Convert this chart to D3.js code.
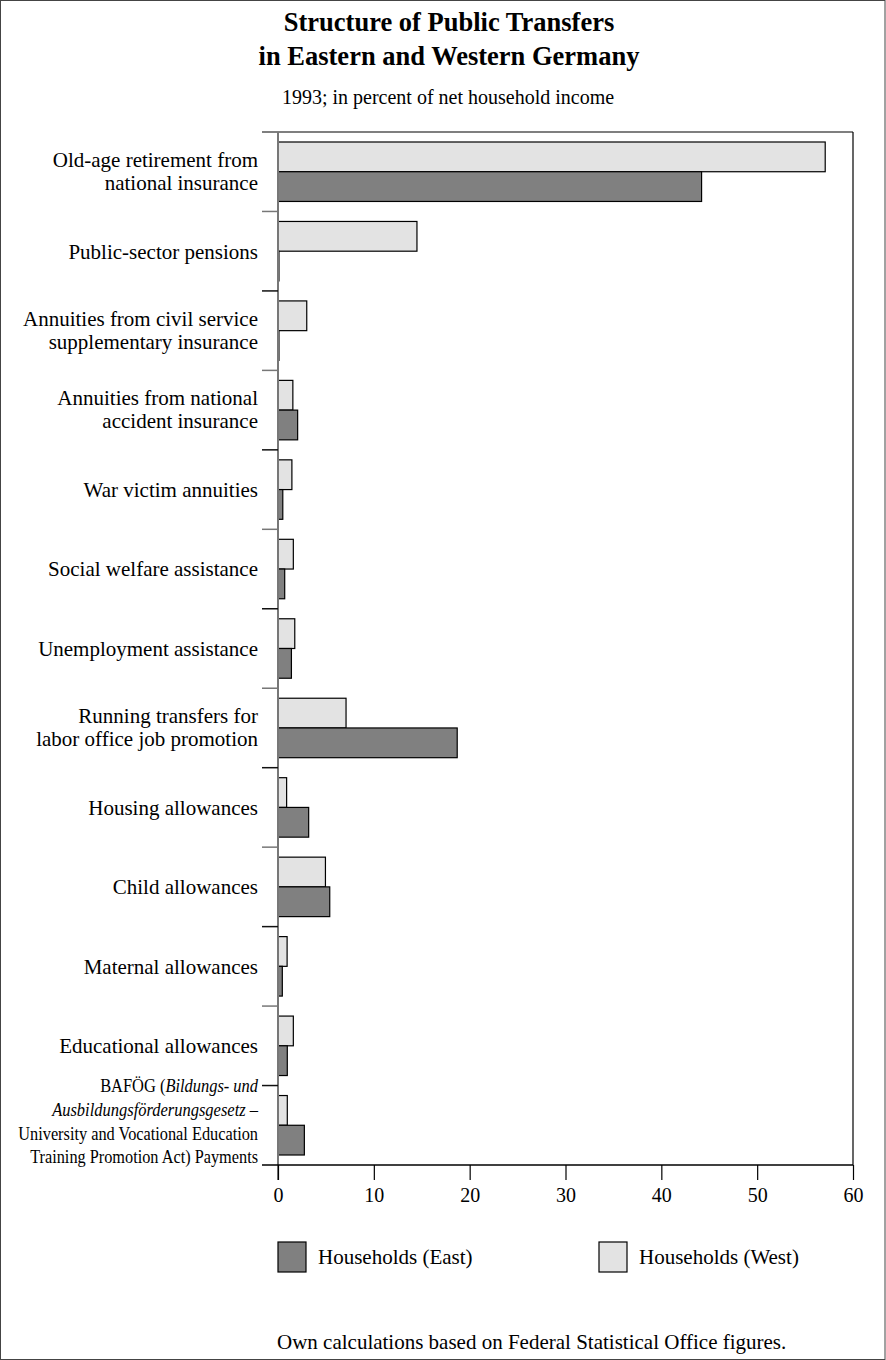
<!DOCTYPE html>
<html><head><meta charset="utf-8">
<script src="https://cdn.jsdelivr.net/npm/d3@7"></script>
<style>
body{margin:0;background:#fff}
svg{display:block}
text{font-family:"Liberation Serif","Times New Roman",serif;fill:#000}
</style></head>
<body>
<script>
const categories = [
  "Old-age retirement from|national insurance",
  "Public-sector pensions",
  "Annuities from civil service|supplementary insurance",
  "Annuities from national|accident insurance",
  "War victim annuities",
  "Social welfare assistance",
  "Unemployment assistance",
  "Running transfers for|labor office job promotion",
  "Housing allowances",
  "Child allowances",
  "Maternal allowances",
  "Educational allowances",
  "BAFOG"
];
const eastValues = [44.2, 0.1, 0.1, 2.05, 0.5, 0.7, 1.4, 18.7, 3.2, 5.4, 0.45, 0.97, 2.75];
const westValues = [57.1, 14.5, 3.0, 1.55, 1.45, 1.6, 1.75, 7.1, 0.9, 4.95, 0.95, 1.6, 0.97];
const xTicks = [0, 10, 20, 30, 40, 50, 60];
const seriesNames = ["Households (East)", "Households (West)"];

(function () {
const W = 886, H = 1360;
const margin = {left: 278, right: 33, top: 132, bottom: 195};
const svg = d3.select("body").append("svg").attr("width", W).attr("height", H);

// outer frame
svg.append("rect").attr("x", 0.5).attr("y", 0.5).attr("width", W - 1.5).attr("height", H - 1)
  .attr("fill", "none").attr("stroke", "#444").attr("stroke-width", 1);

// titles
svg.append("text").attr("x", 449).attr("y", 31).attr("text-anchor", "middle")
  .attr("font-weight", "bold").attr("font-size", 26.5).text("Structure of Public Transfers");
svg.append("text").attr("x", 449).attr("y", 65).attr("text-anchor", "middle")
  .attr("font-weight", "bold").attr("font-size", 26.5).text("in Eastern and Western Germany");
svg.append("text").attr("x", 448).attr("y", 104).attr("text-anchor", "middle")
  .attr("font-size", 20).text("1993; in percent of net household income");

const x = d3.scaleLinear().domain([0, 60]).range([margin.left, W - margin.right]);
const y0 = d3.scaleBand().domain(categories).range([margin.top, H - margin.bottom]).padding(0);
const y1 = d3.scaleBand().domain(["West", "East"]).range([10, y0.bandwidth() - 10]).padding(0);

const rows = categories.map((c, i) => ({cat: c, West: westValues[i], East: eastValues[i]}));
const colors = {West: "#e3e3e3", East: "#808080"};

const yTop = margin.top, yBot = H - margin.bottom;
svg.append("line").attr("x1", 262).attr("x2", x(60)).attr("y1", yTop).attr("y2", yTop)
  .attr("stroke", "#000").attr("stroke-width", 1.2);
svg.append("line").attr("x1", x(60)).attr("x2", x(60)).attr("y1", yTop).attr("y2", yBot)
  .attr("stroke", "#000").attr("stroke-width", 1.2);

// bars
const g = svg.append("g");
rows.forEach(r => {
  ["West", "East"].forEach(s => {
    g.append("rect")
      .attr("x", x(0))
      .attr("y", y0(r.cat) + y1(s))
      .attr("width", Math.max(0, x(r[s]) - x(0)))
      .attr("height", y1.bandwidth())
      .attr("fill", colors[s])
      .attr("stroke", "#000").attr("stroke-width", 1.2);
  });
});

// left axis line and boundary ticks
svg.append("line").attr("x1", x(0)).attr("x2", x(0)).attr("y1", yTop).attr("y2", yBot + 15)
  .attr("stroke", "#777").attr("stroke-width", 2);
categories.forEach((c, i) => {
  if (i === 0) return;
  svg.append("line").attr("x1", 262).attr("x2", x(0)).attr("y1", y0(c)).attr("y2", y0(c))
    .attr("stroke", i % 2 ? "#777" : "#111").attr("stroke-width", 1.5);
});

// bottom axis
const xAxis = d3.axisBottom(x).tickValues(xTicks).tickSize(15).tickPadding(8).tickFormat(d3.format("d"));
const ax = svg.append("g").attr("transform", `translate(0,${yBot})`).call(xAxis);
ax.select(".domain").remove();
ax.selectAll(".tick line").attr("stroke", "#000").attr("stroke-width", 1.2);
ax.selectAll(".tick text").attr("font-size", 20).attr("font-family", "Liberation Serif").attr("fill", "#000");
svg.append("line").attr("x1", 262).attr("x2", x(60)).attr("y1", yBot).attr("y2", yBot)
  .attr("stroke", "#000").attr("stroke-width", 1.3);

// category labels
categories.forEach(c => {
  const cy = y0(c) + y0.bandwidth() / 2;
  if (c === "BAFOG") return;
  const lines = c.split("|");
  lines.forEach((ln, j) => {
    const off = (j - (lines.length - 1) / 2) * 23 - (lines.length > 1 ? 0.7 : 0);
    svg.append("text").attr("x", 258).attr("y", cy + off).attr("dy", "0.35em")
      .attr("text-anchor", "end").attr("font-size", 21).text(ln);
  });
});

// BAFOG label (horizontally condensed)
const bafY = y0("BAFOG");
const baf = [
  {parts: [["BAFÖG (", "normal"], ["Bildungs- und", "italic"]], len: 158, dy: 0},
  {parts: [["Ausbildungsförderungsgesetz", "italic"], [" –", "normal"]], len: 206, dy: 24},
  {parts: [["University and Vocational Education", "normal"]], len: 240, dy: 48},
  {parts: [["Training Promotion Act) Payments", "normal"]], len: 228, dy: 71}
];
baf.forEach(b => {
  const t = svg.append("text").attr("x", 0).attr("y", 0).attr("dy", "0.35em")
    .attr("text-anchor", "end").attr("font-size", 18);
  b.parts.forEach(p => t.append("tspan").attr("font-style", p[1]).text(p[0]));
  const natural = t.node().getComputedTextLength();
  const sx = b.len / natural;
  t.attr("transform", `translate(258,${bafY + b.dy}) scale(${sx},1)`);
});

// legend
const legY = 1242;
[{name: seriesNames[0], key: "East", lx: x(0)}, {name: seriesNames[1], key: "West", lx: 599}].forEach(l => {
  svg.append("rect").attr("x", l.lx).attr("y", legY).attr("width", 28).attr("height", 30)
    .attr("fill", colors[l.key]).attr("stroke", "#000").attr("stroke-width", 1.2);
  svg.append("text").attr("x", l.lx + 40).attr("y", legY + 15).attr("dy", "0.35em")
    .attr("font-size", 21).text(l.name);
});

// source
svg.append("text").attr("x", 277).attr("y", 1349).attr("text-anchor", "start")
  .attr("font-size", 21).text("Own calculations based on Federal Statistical Office figures.");
})();
</script>
</body></html>
